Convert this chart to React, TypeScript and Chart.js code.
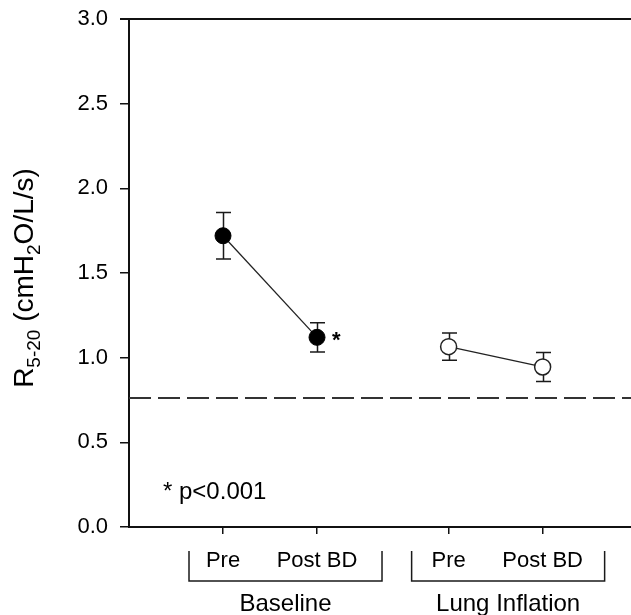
import { useEffect, useRef } from "react";
import { Chart, registerables } from "chart.js";

Chart.register(...registerables);

// ---- data ----
const categories = ["Pre", "Post BD", "Pre", "Post BD"];
const catX = [1, 2, 3.4, 4.4];
const groups = ["Baseline", "Lung Inflation"];
const baselineMean = [1.72, 1.12];
const baselineErr = [0.137, 0.086];
const inflationMean = [1.065, 0.945];
const inflationErr = [0.08, 0.086];
const referenceLine = 0.762;
const yTicks = [0, 0.5, 1, 1.5, 2, 2.5, 3];
const X_MAX = 5.34;

const FONT = "'Liberation Sans', Arial, Helvetica, sans-serif";
const INK = "#111111";

const annotPlugin = {
  id: "annot",
  beforeDatasetsDraw(chart: any) {
    const { ctx } = chart;
    const x = chart.scales.x;
    const y = chart.scales.y;
    ctx.save();
    ctx.strokeStyle = "#1a1a1a";
    ctx.lineWidth = 1.5;
    const sets: [number[], number[], number[]][] = [
      [catX.slice(0, 2), baselineMean, baselineErr],
      [catX.slice(2, 4), inflationMean, inflationErr],
    ];
    for (const [xs, ms, es] of sets) {
      xs.forEach((cx, i) => {
        const px = Math.round(x.getPixelForValue(cx)) + 0.5;
        const top = y.getPixelForValue(ms[i] + es[i]);
        const bot = y.getPixelForValue(ms[i] - es[i]);
        ctx.beginPath();
        ctx.moveTo(px, top);
        ctx.lineTo(px, bot);
        ctx.moveTo(px - 7.5, top);
        ctx.lineTo(px + 7.5, top);
        ctx.moveTo(px - 7.5, bot);
        ctx.lineTo(px + 7.5, bot);
        ctx.stroke();
      });
    }
    ctx.restore();
  },
  afterDraw(chart: any) {
    const { ctx, chartArea } = chart;
    const x = chart.scales.x;
    const y = chart.scales.y;
    ctx.save();
    // top frame line
    ctx.strokeStyle = INK;
    ctx.lineWidth = 2;
    ctx.beginPath();
    ctx.moveTo(chartArea.left - 9, chartArea.top);
    ctx.lineTo(chartArea.right, chartArea.top);
    ctx.stroke();

    ctx.fillStyle = "#000";
    // significance asterisk
    ctx.font = `bold 22px ${FONT}`;
    ctx.textAlign = "left";
    ctx.textBaseline = "middle";
    ctx.fillText("*", x.getPixelForValue(catX[1]) + 15, y.getPixelForValue(baselineMean[1]) + 4);

    // p-value note
    ctx.font = `24px ${FONT}`;
    ctx.textBaseline = "alphabetic";
    ctx.fillText("* p<0.001", chartArea.left + 34, chartArea.bottom - 28);

    // category labels
    ctx.font = `22px ${FONT}`;
    ctx.textAlign = "center";
    categories.forEach((c, i) => {
      ctx.fillText(c, x.getPixelForValue(catX[i]), chartArea.bottom + 40);
    });

    // brackets
    ctx.strokeStyle = "#1a1a1a";
    ctx.lineWidth = 1.5;
    const brackets = [
      [x.getPixelForValue(catX[0]) - 34, x.getPixelForValue(catX[1]) + 65],
      [x.getPixelForValue(catX[2]) - 37, x.getPixelForValue(catX[3]) + 62],
    ];
    const bTop = chartArea.bottom + 24;
    const bBot = chartArea.bottom + 54;
    brackets.forEach(([l, r], i) => {
      ctx.beginPath();
      ctx.moveTo(l, bTop);
      ctx.lineTo(l, bBot);
      ctx.lineTo(r, bBot);
      ctx.lineTo(r, bTop);
      ctx.stroke();
      ctx.font = `24px ${FONT}`;
      ctx.textAlign = "center";
      ctx.fillText(groups[i], (l + r) / 2, chartArea.bottom + 84);
    });

    // y axis title with subscripts
    const segs = [
      { t: "R", sub: false },
      { t: "5-20", sub: true },
      { t: " (cmH", sub: false },
      { t: "2", sub: true },
      { t: "O/L/s)", sub: false },
    ];
    const mainF = `28px ${FONT}`;
    const subF = `19px ${FONT}`;
    let total = 0;
    for (const s of segs) {
      ctx.font = s.sub ? subF : mainF;
      total += ctx.measureText(s.t).width;
    }
    ctx.translate(33, 278);
    ctx.rotate(-Math.PI / 2);
    ctx.textAlign = "left";
    ctx.textBaseline = "alphabetic";
    let u = -total / 2;
    for (const s of segs) {
      ctx.font = s.sub ? subF : mainF;
      ctx.fillText(s.t, u, s.sub ? 7 : 0);
      u += ctx.measureText(s.t).width;
    }
    ctx.restore();
  },
};

export default function App() {
  const ref = useRef<HTMLCanvasElement | null>(null);
  useEffect(() => {
    if (!ref.current) return;
    const chart = new Chart(ref.current, {
      type: "line",
      data: {
        datasets: [
          {
            label: "Baseline",
            data: catX.slice(0, 2).map((cx, i) => ({ x: cx, y: baselineMean[i] })),
            borderColor: "#222",
            borderWidth: 1.3,
            pointRadius: 8,
            pointBackgroundColor: "#000",
            pointBorderColor: "#000",
            pointBorderWidth: 1,
          },
          {
            label: "Lung Inflation",
            data: catX.slice(2, 4).map((cx, i) => ({ x: cx, y: inflationMean[i] })),
            borderColor: "#222",
            borderWidth: 1.3,
            pointRadius: 8,
            pointBackgroundColor: "#fff",
            pointBorderColor: "#222",
            pointBorderWidth: 1.5,
          },
          {
            label: "Reference",
            data: [
              { x: 0, y: referenceLine },
              { x: X_MAX, y: referenceLine },
            ],
            borderColor: "#333",
            borderWidth: 2,
            borderDash: [22, 7],
            pointRadius: 0,
          },
        ],
      },
      options: {
        responsive: false,
        animation: false,
        devicePixelRatio: 1,
        layout: { autoPadding: false, padding: { left: 0, right: 0, top: 19, bottom: 0 } },
        plugins: { legend: { display: false }, tooltip: { enabled: false } },
        scales: {
          x: {
            type: "linear",
            min: 0,
            max: X_MAX,
            afterBuildTicks: (s: any) => {
              s.ticks = catX.map((v) => ({ value: v }));
            },
            afterFit: (s: any) => {
              s.height = 88;
              s.paddingLeft = 0;
              s.paddingRight = 0;
            },
            ticks: { display: false },
            grid: {
              drawOnChartArea: false,
              drawTicks: true,
              tickLength: 7,
              color: INK,
              lineWidth: 1.5,
            },
            border: { display: true, color: INK, width: 2 },
          },
          y: {
            min: 0,
            max: 3,
            afterBuildTicks: (s: any) => {
              s.ticks = yTicks.map((v) => ({ value: v }));
            },
            afterFit: (s: any) => {
              s.width = 129;
              s.paddingTop = 0;
              s.paddingBottom = 0;
            },
            ticks: {
              callback: (v: any) => Number(v).toFixed(1),
              font: { family: FONT, size: 22 },
              color: "#000",
              padding: 12,
            },
            grid: {
              drawOnChartArea: false,
              drawTicks: true,
              tickLength: 9,
              color: INK,
              lineWidth: 1.5,
            },
            border: { display: true, color: INK, width: 2 },
          },
        },
      },
      plugins: [annotPlugin],
    });
    return () => chart.destroy();
  }, []);
  return (
    <div style={{ position: "fixed", left: 0, top: 0, width: 631, height: 615, background: "#fff" }}>
      <canvas ref={ref} width={631} height={615} style={{ display: "block" }} />
    </div>
  );
}
